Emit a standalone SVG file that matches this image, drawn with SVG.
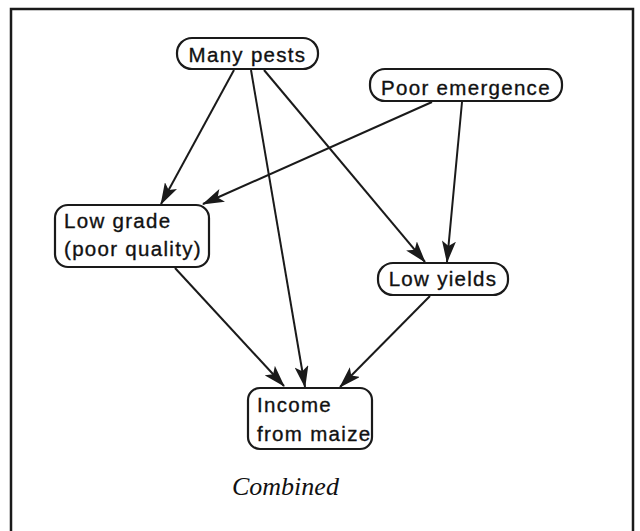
<svg xmlns="http://www.w3.org/2000/svg" width="640" height="531" viewBox="0 0 640 531">
  <style>
    .frame { fill: none; stroke: #1a1a1a; stroke-width: 2.5; }
    .node rect { fill: #ffffff; stroke: #1a1a1a; stroke-width: 2.2; }
    .node text { font-family: "Liberation Sans", Arial, sans-serif; font-size: 20.5px; fill: #111111; letter-spacing: 1.3px; stroke: #111111; stroke-width: 0.35; }
    .edge { fill: none; stroke: #1a1a1a; stroke-width: 2; marker-end: url(#arrow); }
    .caption { font-family: "Liberation Serif", "Times New Roman", serif; font-style: italic; font-size: 26px; fill: #111111; }
  </style>
  <defs>
    <marker id="arrow" markerUnits="userSpaceOnUse" markerWidth="22" markerHeight="14" refX="21" refY="7" orient="auto" viewBox="0 0 22 14">
      <path d="M0,0 L22,7 L0,14 L5,7 Z" fill="#1a1a1a"/>
    </marker>
  </defs>

  <rect width="640" height="531" fill="#ffffff"/>
  <!-- outer frame, open at the bottom edge of the page -->
  <path class="frame" d="M11,540 L11,9 L633,9 L633,540"/>

  <g id="connectors">
    <line class="edge" x1="234" y1="70" x2="161" y2="204"/>
    <line class="edge" x1="251" y1="70" x2="305" y2="387"/>
    <line class="edge" x1="264" y1="70" x2="425" y2="262"/>
    <line class="edge" x1="432" y1="102" x2="203" y2="204"/>
    <line class="edge" x1="462" y1="102" x2="447" y2="262"/>
    <line class="edge" x1="175" y1="268" x2="284" y2="386"/>
    <line class="edge" x1="430" y1="296" x2="340" y2="387"/>
  </g>

  <g id="many-pests" class="node">
    <rect x="177" y="38" width="141" height="31" rx="15"/>
    <text x="247.5" y="62" text-anchor="middle">Many pests</text>
  </g>

  <g id="poor-emergence" class="node">
    <rect x="370" y="69" width="192" height="32" rx="15"/>
    <text x="466" y="95" text-anchor="middle">Poor emergence</text>
  </g>

  <g id="low-grade" class="node">
    <rect x="55" y="205" width="154" height="62" rx="13"/>
    <text x="64" y="228">Low grade</text>
    <text x="64" y="256">(poor quality)</text>
  </g>

  <g id="low-yields" class="node">
    <rect x="378" y="263" width="130" height="32" rx="15"/>
    <text x="443" y="286" text-anchor="middle">Low yields</text>
  </g>

  <g id="income" class="node">
    <rect x="248" y="388" width="124" height="61" rx="12"/>
    <text x="257" y="412">Income</text>
    <text x="257" y="441">from maize</text>
  </g>

  <text class="caption" x="232" y="495">Combined</text>
</svg>
